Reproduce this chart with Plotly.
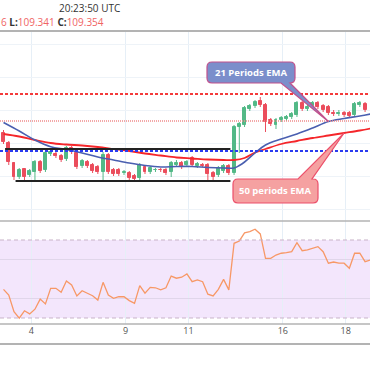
import plotly.graph_objects as go

# ---------------- data ----------------
candle_idx = list(range(70))
opens = [109.124,109.024,108.824,108.684,108.764,108.704,108.734,108.834,108.754,108.914,
         108.914,108.894,108.864,108.974,108.924,108.794,108.834,108.804,108.784,108.734,
         108.904,108.754,108.754,108.729,108.724,108.694,108.674,108.784,108.734,108.754,
         108.759,108.754,108.734,108.804,108.824,108.804,108.874,108.794,108.804,108.804,
         108.724,108.704,108.744,108.794,108.724,109.184,109.204,109.364,109.394,109.444,
         109.404,109.254,109.204,109.254,109.264,109.284,109.304,109.424,109.364,109.394,
         109.424,109.394,109.384,109.324,109.319,109.324,109.324,109.304,109.404,109.414]
highs = [109.154,109.044,108.834,108.774,108.774,108.764,108.854,108.854,108.944,108.954,
         108.934,108.914,108.994,108.994,108.944,108.864,108.854,108.824,108.804,108.934,
         108.924,108.774,108.774,108.754,108.744,108.714,108.824,108.804,108.794,108.774,
         108.774,108.774,108.844,108.854,108.844,108.854,108.894,108.834,108.824,108.824,
         108.744,108.794,108.814,108.814,109.204,109.234,109.394,109.414,109.454,109.484,
         109.424,109.274,109.274,109.294,109.304,109.334,109.444,109.444,109.404,109.444,
         109.444,109.414,109.404,109.354,109.354,109.344,109.344,109.434,109.444,109.434]
lows = [109.014,108.804,108.654,108.664,108.654,108.684,108.634,108.724,108.734,108.894,
        108.874,108.834,108.844,108.914,108.764,108.774,108.774,108.724,108.714,108.634,
        108.714,108.694,108.694,108.704,108.654,108.634,108.654,108.714,108.714,108.734,
        108.734,108.704,108.684,108.784,108.764,108.784,108.784,108.774,108.784,108.654,
        108.654,108.684,108.724,108.704,108.704,108.924,109.184,109.344,109.374,109.384,
        109.134,109.194,109.164,109.234,109.244,109.264,109.284,109.344,109.344,109.374,
        109.364,109.334,109.304,109.294,109.294,109.284,109.274,109.284,109.384,109.334]
closes = [109.034,108.834,108.684,108.754,108.684,108.744,108.834,108.744,108.924,108.934,
          108.894,108.854,108.974,108.934,108.784,108.844,108.794,108.744,108.734,108.904,
          108.734,108.714,108.714,108.734,108.674,108.664,108.804,108.734,108.774,108.759,
          108.754,108.724,108.824,108.824,108.784,108.834,108.804,108.814,108.799,108.714,
          108.684,108.774,108.794,108.724,109.184,109.214,109.374,109.394,109.434,109.404,
          109.234,109.214,109.254,109.274,109.284,109.314,109.424,109.364,109.384,109.424,
          109.384,109.354,109.324,109.319,109.324,109.304,109.294,109.414,109.424,109.354]

ema_idx = [0,3,6,9,12,15,18,21,24,27,30,33,36,39,42,44,45,46,48,50,53,56,59,62,65,68,70]
ema21 = [109.229,109.144,109.054,108.987,108.959,108.924,108.884,108.854,108.824,108.799,
         108.784,108.789,108.789,108.779,108.774,108.774,108.799,108.834,108.924,109.004,
         109.064,109.114,109.174,109.239,109.269,109.294,109.314]
ema50_idx = [0,3,6,9,12,15,18,21,24,27,30,33,36,39,42,44,46,48,50,53,56,59,62,65,68,70]
ema50 = [109.114,109.089,109.054,109.024,109.009,108.999,108.984,108.964,108.944,108.919,
         108.899,108.879,108.869,108.859,108.854,108.854,108.874,108.929,108.964,109.014,
         109.044,109.074,109.099,109.124,109.149,109.169]

rsi_idx = list(range(71))
rsi = [44.7,41.8,33.2,29.9,33.7,32.1,34.5,39.7,37.2,45.2,45.2,43.2,49.0,46.9,41.3,44.0,
       42.7,41.4,39.2,48.3,41.8,40.1,40.9,40.9,38.9,37.5,46.6,42.7,45.7,45.5,44.4,45.5,
       51.5,50.4,50.9,52.6,48.6,49.5,48.6,42.2,41.3,44.7,49.8,44.4,68.3,69.5,73.7,74.3,
       75.5,73.1,60.6,60.6,62.3,63.2,63.5,64.0,68.6,64.5,64.9,65.7,66.6,64.0,58.1,58.7,
       58.1,58.1,55.5,63.2,63.2,58.9,59.7]

day_tick_pos = [5.3, 23.3, 35.3, 53.3, 65.3]
day_tick_text = ["4", "9", "11", "16", "18"]

resistance_level = 109.514
current_level = 109.244
mid_level = 108.944
range_top = 108.964
range_bottom = 108.644
range_top_span = [0.3, 43.3]
range_bottom_span = [2.3, 43.3]
rsi_upper, rsi_lower = 70, 30

# ---------------- layout helpers ----------------
W = H = 370
XR = [-0.67, 69.94]
YR = [108.244, 110.144]        # price pane covers pixel rows 31..221
RR = [26.92, 79.74]            # rsi pane covers pixel rows 221..324

def pyp(pix):  # pixel row -> paper y
    return 1 - pix / H

def pxp(pix):
    return pix / W

def xd(pix):   # pixel col -> data x
    return XR[0] + pix / W * (XR[1] - XR[0])

def yd(pix):   # pixel row -> price
    return YR[1] - (pix - 31) / 190 * (YR[1] - YR[0])

UP, DN = "#53b987", "#eb4d5c"

fig = go.Figure()

body = [abs(c - o) for o, c in zip(opens, closes)]
base = [min(o, c) for o, c in zip(opens, closes)]
cols = [UP if c >= o else DN for o, c in zip(opens, closes)]
fig.add_trace(go.Bar(x=candle_idx, y=body, base=base, width=0.56,
                     marker=dict(color=cols, line=dict(color=cols, width=1)),
                     xaxis="x", yaxis="y", hoverinfo="skip"))
for col, cond in ((UP, True), (DN, False)):
    wx, wy = [], []
    for i, o, h, l, c in zip(candle_idx, opens, highs, lows, closes):
        if (c >= o) == cond:
            wx += [i, i, None]
            wy += [l, h, None]
    fig.add_trace(go.Scatter(x=wx, y=wy, mode="lines", line=dict(color=col, width=1),
                             xaxis="x", yaxis="y", hoverinfo="skip"))

fig.add_trace(go.Scatter(x=ema50_idx, y=ema50, mode="lines",
                         line=dict(color="#f5262a", width=1.8, shape="spline"),
                         xaxis="x", yaxis="y"))
fig.add_trace(go.Scatter(x=ema_idx, y=ema21, mode="lines",
                         line=dict(color="#4a5fb0", width=1.6, shape="spline"),
                         xaxis="x", yaxis="y"))

fig.add_trace(go.Scatter(x=rsi_idx, y=rsi, mode="lines",
                         line=dict(color="#f79866", width=1.3),
                         xaxis="x2", yaxis="y2"))

shapes = []
# RSI band
shapes.append(dict(type="rect", xref="paper", yref="y2", x0=0, x1=1, y0=rsi_lower, y1=rsi_upper,
                   fillcolor="#f3e6fc", line=dict(width=0), layer="below"))
for lv in (rsi_upper, rsi_lower):
    shapes.append(dict(type="line", xref="paper", yref="y2", x0=0, x1=1, y0=lv, y1=lv,
                       line=dict(color="#c8b4c8", width=1, dash="4px,3px")))
# price levels
shapes.append(dict(type="line", xref="paper", yref="y", x0=0, x1=1, y0=resistance_level, y1=resistance_level,
                   line=dict(color="#f43b3b", width=2, dash="3px,2px")))
shapes.append(dict(type="line", xref="paper", yref="y", x0=0, x1=1, y0=current_level, y1=current_level,
                   line=dict(color="#f08c8c", width=1.5, dash="1px,1px")))
shapes.append(dict(type="line", xref="paper", yref="y", x0=0, x1=1, y0=mid_level, y1=mid_level,
                   line=dict(color="#2a3cf0", width=2, dash="3px,2px")))
shapes.append(dict(type="line", xref="x", yref="y", x0=range_top_span[0], x1=range_top_span[1],
                   y0=range_top, y1=range_top, line=dict(color="#222222", width=2)))
shapes.append(dict(type="line", xref="x", yref="y", x0=range_bottom_span[0], x1=range_bottom_span[1],
                   y0=range_bottom, y1=range_bottom, line=dict(color="#222222", width=2)))

# pane borders
for pix, wdt in ((31, 2), (221, 1.5), (324, 1.5), (344, 2)):
    shapes.append(dict(type="line", xref="paper", yref="paper", x0=0, x1=1, y0=pyp(pix), y1=pyp(pix),
                       line=dict(color="#b3b3b3", width=wdt)))

def P(x, y):
    return f"{xd(x):.4f},{yd(y):.5f}"

def callout_bottom(x0, y0, x1, y1, r, bl, br, tip):
    tx, ty = tip
    return (f"M {P(x0+r,y0)} L {P(x1-r,y0)} Q {P(x1,y0)} {P(x1,y0+r)} L {P(x1,y1-r)} "
            f"Q {P(x1,y1)} {P(x1-r,y1)} L {P(br,y1)} L {tx:.4f},{ty:.5f} L {P(bl,y1)} "
            f"L {P(x0+r,y1)} Q {P(x0,y1)} {P(x0,y1-r)} L {P(x0,y0+r)} Q {P(x0,y0)} {P(x0+r,y0)} Z")

def callout_top(x0, y0, x1, y1, r, bl, br, tip):
    tx, ty = tip
    return (f"M {P(x0+r,y0)} L {P(bl,y0)} L {tx:.4f},{ty:.5f} L {P(br,y0)} L {P(x1-r,y0)} "
            f"Q {P(x1,y0)} {P(x1,y0+r)} L {P(x1,y1-r)} Q {P(x1,y1)} {P(x1-r,y1)} "
            f"L {P(x0+r,y1)} Q {P(x0,y1)} {P(x0,y1-r)} L {P(x0,y0+r)} Q {P(x0,y0)} {P(x0+r,y0)} Z")

tip21 = (ema_idx[23], ema21[23])
tip50 = (ema50_idx[23], ema50[23])
shapes.append(dict(type="path", xref="x", yref="y",
                   path=callout_bottom(207, 62, 295, 83, 5, 281, 290, tip21),
                   fillcolor="#7b8ecb", line=dict(color="#c2508c", width=1.2)))
shapes.append(dict(type="path", xref="x", yref="y",
                   path=callout_top(233, 179, 318, 203, 5, 298, 312, tip50),
                   fillcolor="#f5a1a1", line=dict(color="#ec4f6a", width=1.2)))

annotations = [
    dict(xref="paper", yref="paper", x=pxp(251), y=pyp(72.5), xanchor="center", yanchor="middle",
         text="<b>21 Periods EMA</b>",
         showarrow=False, font=dict(family="Open Sans", size=9.5, color="white")),
    dict(xref="paper", yref="paper", x=pxp(275.5), y=pyp(191), xanchor="center", yanchor="middle",
         text="<b>50 periods EMA</b>",
         showarrow=False, font=dict(family="Open Sans", size=9.5, color="white")),
    dict(xref="paper", yref="paper", x=pxp(57), y=pyp(8), xanchor="left", yanchor="middle",
         text="20:23:50 UTC", showarrow=False, font=dict(family="Open Sans", size=10, color="#333333")),
    dict(xref="paper", yref="paper", x=pxp(-1), y=pyp(22), xanchor="left", yanchor="middle",
         text=("<span style='color:#f06464'>6</span> <b>L:</b><span style='color:#f06464'>109.341</span>"
               " <b>C:</b><span style='color:#f06464'>109.354</span>"),
         showarrow=False, font=dict(family="Open Sans", size=10, color="#333333")),
]

fig.update_layout(
    width=W, height=H, margin=dict(l=0, r=0, t=0, b=0),
    paper_bgcolor="white", plot_bgcolor="white", showlegend=False,
    barmode="overlay", bargap=0,
    xaxis=dict(domain=[0, 1], range=XR, anchor="y", showticklabels=False, tickvals=day_tick_pos,
               showgrid=True, gridcolor="#e6eff7", gridwidth=1, zeroline=False, showline=False),
    yaxis=dict(domain=[pyp(221), pyp(31)], range=YR, showticklabels=False, showgrid=True,
               gridcolor="#eef3f8", tick0=yd(44), dtick=0.33, zeroline=False),
    xaxis2=dict(domain=[0, 1], range=XR, anchor="y2", matches="x", tickvals=day_tick_pos,
                ticktext=day_tick_text, tickfont=dict(family="Open Sans", size=9, color="#555555"),
                showgrid=True, gridcolor="#e6eff7", zeroline=False, showline=False, ticks=""),
    yaxis2=dict(domain=[pyp(324), pyp(221)], range=RR, showticklabels=False, tickvals=[40, 60],
                showgrid=True, gridcolor="#e0d6ea", zeroline=False),
    shapes=shapes, annotations=annotations,
)

fig.write_html("out.html", config={"displayModeBar": False},
               post_script="document.body.style.margin='0';document.body.style.overflow='hidden';")
